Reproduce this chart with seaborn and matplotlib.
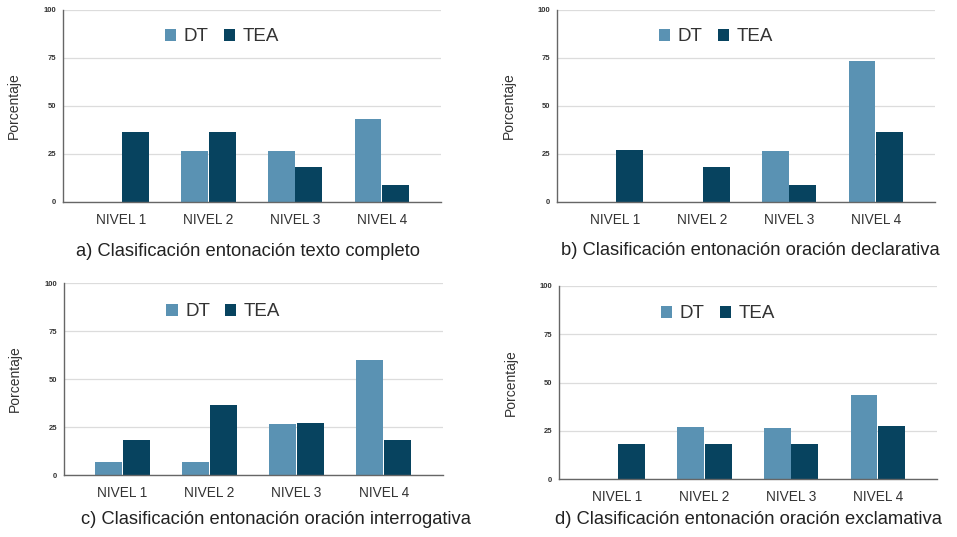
import matplotlib
matplotlib.use("Agg")
import matplotlib.pyplot as plt
from matplotlib.patches import Patch
import seaborn as sns
import pandas as pd

sns.set_theme(style="white")
plt.rcParams['font.family'] = ['Liberation Sans', 'DejaVu Sans']

niveles = ["NIVEL 1", "NIVEL 2", "NIVEL 3", "NIVEL 4"]
grupos = ["DT", "TEA"]

dt_a = [0, 26.7, 26.7, 43.3]
tea_a = [36.4, 36.4, 18.2, 9.1]
dt_b = [0, 0, 26.7, 73.3]
tea_b = [27.3, 18.2, 9.1, 36.4]
dt_c = [6.7, 6.7, 26.7, 60.0]
tea_c = [18.2, 36.4, 27.3, 18.2]
dt_d = [0, 26.7, 26.3, 43.3]
tea_d = [18.2, 18.2, 18.2, 27.3]

captions = [
    "a) Clasificación entonación texto completo",
    "b) Clasificación entonación oración declarativa",
    "c) Clasificación entonación oración interrogativa",
    "d) Clasificación entonación oración exclamativa",
]
yticks = [0, 25, 50, 75, 100]

colors = {"DT": "#5a92b3", "TEA": "#07435f"}

W, H = 957, 537
fig = plt.figure(figsize=(W / 100, H / 100), dpi=100)

# axes boxes in pixels: left, top, right, bottom
boxes = [
    (63, 10, 441, 202),
    (557, 10, 935, 202),
    (64, 283, 443, 475),
    (559, 286, 937, 479),
]
cap_pos = [(248, 251), (750, 250), (276, 519), (748, 520)]
leg_y = [0.86, 0.86, 0.85, 0.855]
lab_x = [-0.111, -0.108, -0.111, -0.110]

series = [(dt_a, tea_a), (dt_b, tea_b), (dt_c, tea_c), (dt_d, tea_d)]

for i, ((dt, tea), box) in enumerate(zip(series, boxes)):
    l, t, r, b = box
    ax = fig.add_axes([l / W, 1 - b / H, (r - l) / W, (b - t) / H])
    df = pd.DataFrame({
        "nivel": niveles * 2,
        "pct": list(dt) + list(tea),
        "grupo": ["DT"] * 4 + ["TEA"] * 4,
    })
    sns.barplot(data=df, x="nivel", y="pct", hue="grupo", hue_order=grupos,
                palette=colors, width=0.64, gap=0.03, linewidth=0,
                saturation=1, ax=ax, legend=False, errorbar=None)
    ax.set_xlim(-0.67, 3.68)
    ax.set_ylim(0, 100)
    ax.set_yticks(yticks)
    ax.set_yticklabels([str(v) for v in yticks], fontsize=5.5, fontweight="bold", color="#333333")
    ax.tick_params(axis="x", length=0, pad=8, labelsize=9.8, labelcolor="#333333")
    ax.tick_params(axis="y", length=0, pad=5)
    ax.yaxis.grid(True, color="#dcdcdc", linewidth=0.9)
    ax.set_axisbelow(True)
    for s in ["top", "right"]:
        ax.spines[s].set_visible(False)
    ax.spines["left"].set_color("#666666")
    ax.spines["left"].set_linewidth(1.0)
    ax.spines["bottom"].set_color("#666666")
    ax.spines["bottom"].set_linewidth(1.0)
    ax.set_xlabel("")
    ax.set_ylabel("Porcentaje", fontsize=10, color="#333333")
    ax.yaxis.set_label_coords(lab_x[i], 0.5)
    handles = [Patch(facecolor=colors[g], edgecolor="none", label=g) for g in grupos]
    ax.legend(handles=handles, loc="center", bbox_to_anchor=(0.42, leg_y[i]), ncol=2,
              frameon=False, fontsize=13.5, handlelength=0.6, handleheight=0.6,
              handletextpad=0.4, columnspacing=0.8, labelcolor="#333333")
    cx, cy = cap_pos[i]
    fig.text(cx / W, 1 - cy / H, captions[i], ha="center", va="center",
             fontsize=13.2, color="#222222")

fig.savefig("out.png", dpi=100)
